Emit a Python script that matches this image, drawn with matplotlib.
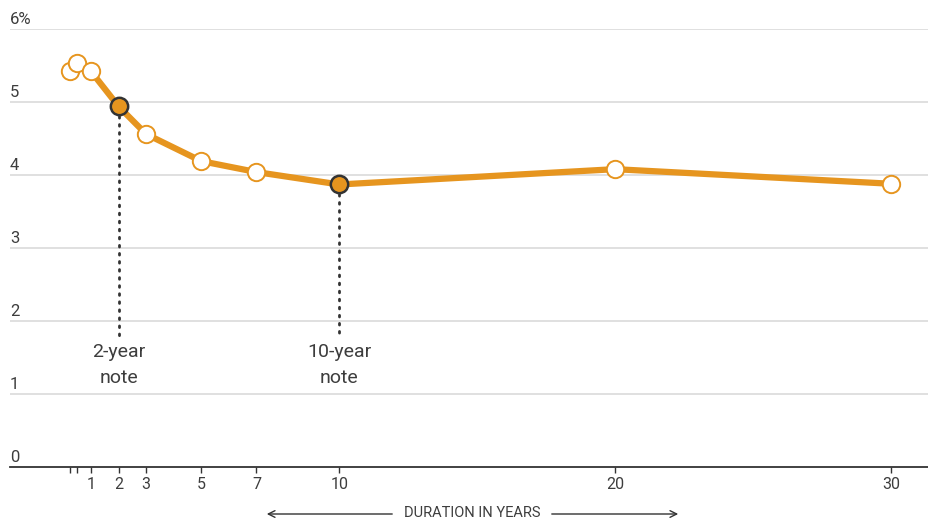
import matplotlib
matplotlib.use("Agg")
import matplotlib.pyplot as plt
from matplotlib import font_manager

# Treasury yield curve by maturity
maturities = [0.25, 0.5, 1, 2, 3, 5, 7, 10, 20, 30]
yields = [5.43, 5.54, 5.42, 4.94, 4.56, 4.19, 4.04, 3.87, 4.08, 3.88]
highlighted = [2, 10]
highlight_labels = ["2-year\nnote", "10-year\nnote"]

x_ticks = [0.25, 0.5, 1, 2, 3, 5, 7, 10, 20, 30]
x_tick_labels = ["", "", "1", "2", "3", "5", "7", "10", "20", "30"]
y_ticks = [0, 1, 2, 3, 4, 5, 6]
y_tick_labels = ["0", "1", "2", "3", "4", "5", "6%"]

names = {f.name for f in font_manager.fontManager.ttflist}
family = ["Liberation Sans Narrow", "DejaVu Sans"] if "Liberation Sans Narrow" in names else ["Roboto", "DejaVu Sans"]
plt.rcParams["font.family"] = family

ORANGE = "#E6951F"
TEXT = "#3d3d3d"
GRID = "#DDDDDD"

W, H = 929, 521
fig = plt.figure(figsize=(W / 100, H / 100), dpi=100)
ax = fig.add_axes([10 / W, 54 / H, 919 / W, 438 / H])
ax.set_xlim(-1.936, 31.38)
ax.set_ylim(0, 6)

# horizontal grid and value labels above each line
for v, lab in zip(y_ticks, y_tick_labels):
    if v > 0:
        ax.axhline(v, color=GRID, lw=1.3, zorder=0)
    ax.annotate(lab, xy=(0, v), xycoords=("axes fraction", "data"),
                xytext=(0, 1.5), textcoords="offset points",
                ha="left", va="bottom", fontsize=12, color=TEXT)

for s in ["top", "right", "left"]:
    ax.spines[s].set_visible(False)
ax.spines["bottom"].set_color("#333333")
ax.spines["bottom"].set_linewidth(1.3)
ax.set_yticks([])
ax.set_xticks(x_ticks)
ax.set_xticklabels(x_tick_labels, fontsize=11.5, color=TEXT)
ax.tick_params(axis="x", length=4, width=1, color="#333333", pad=3)

# curve
ax.plot(maturities, yields, color=ORANGE, lw=4.5, solid_capstyle="round", zorder=2)
plain = [(m, y) for m, y in zip(maturities, yields) if m not in highlighted]
ax.plot([p[0] for p in plain], [p[1] for p in plain], ls="none", marker="o",
        ms=12.5, mfc="white", mec=ORANGE, mew=1.4, zorder=3)
hl = [(m, y) for m, y in zip(maturities, yields) if m in highlighted]
ax.plot([p[0] for p in hl], [p[1] for p in hl], ls="none", marker="o",
        ms=12.5, mfc=ORANGE, mec="#333333", mew=1.8, zorder=4)

# dotted leaders and notes
for (m, y), lab in zip(hl, highlight_labels):
    ax.plot([m, m], [y - 0.13, 1.8], color="#333333", lw=2.0,
            ls=(0, (0.6, 2.3)), dash_capstyle="round", zorder=1)
    ax.text(m, 1.7, lab, ha="center", va="top", fontsize=14, color=TEXT,
            linespacing=1.55)

# axis title with arrows
fig.text(472 / W, 1 - 513 / H, "DURATION IN YEARS", ha="center", va="center",
         fontsize=10.5, color=TEXT)
arrow_kw = dict(arrowstyle="->", color="#333333", lw=1.0, mutation_scale=12)
fig.add_artist(matplotlib.patches.FancyArrowPatch((395 / W, 1 - 514 / H), (264 / W, 1 - 514 / H),
                                                  transform=fig.transFigure, **arrow_kw))
fig.add_artist(matplotlib.patches.FancyArrowPatch((549 / W, 1 - 514 / H), (681 / W, 1 - 514 / H),
                                                  transform=fig.transFigure, **arrow_kw))

fig.savefig("out.png", dpi=100, facecolor="white")
